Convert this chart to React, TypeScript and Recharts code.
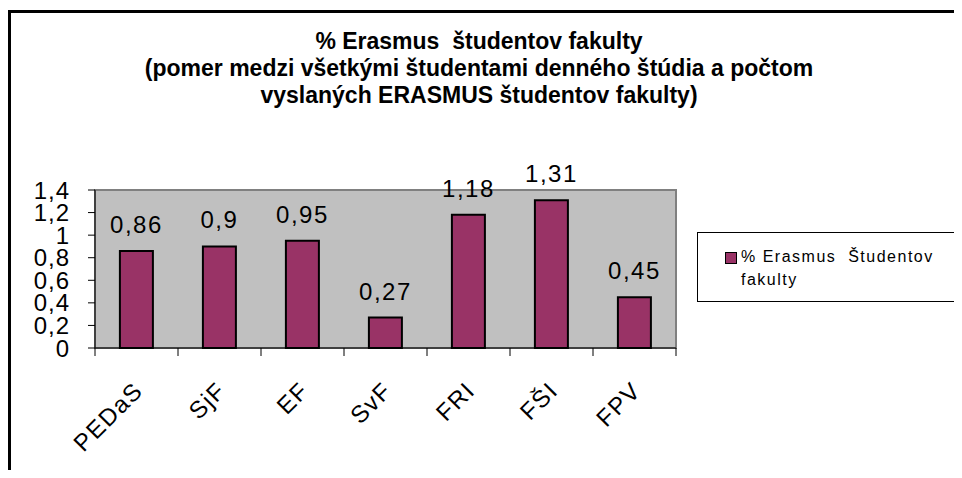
import React from 'react';
import { BarChart, Bar, XAxis, YAxis, LabelList, ReferenceArea } from 'recharts';

const categories = ['PEDaS', 'SjF', 'EF', 'SvF', 'FRI', 'FŠI', 'FPV'];
const erasmusShare = [0.86, 0.9, 0.95, 0.27, 1.18, 1.31, 0.45];
const yTicks = [0, 0.2, 0.4, 0.6, 0.8, 1, 1.2, 1.4];

const seriesName = '% Erasmus  Študentov fakulty';
const titleLines = [
  '% Erasmus  študentov fakulty',
  '(pomer medzi všetkými študentami denného štúdia a počtom',
  'vyslaných ERASMUS študentov fakulty)',
];

const data = categories.map((name, i) => ({ name, value: erasmusShare[i] }));

const FONT = 'Arial, "Liberation Sans", sans-serif';
const PLOT_LEFT = 95;
const PLOT_RIGHT = 676;
const BAND = (PLOT_RIGHT - PLOT_LEFT) / categories.length;

const comma = (v: number | string) => String(v).replace('.', ',');

const CategoryTick = (props: any) => {
  const { x, y, payload, index } = props;
  const half = BAND / 2;
  const tx = x + 8;
  const ty = y + 44;
  return (
    <g>
      <line x1={x - half} y1={y} x2={x - half} y2={y + 8} stroke="#000" />
      {index === categories.length - 1 && (
        <line x1={x + half} y1={y} x2={x + half} y2={y + 8} stroke="#000" />
      )}
      <text
        x={tx}
        y={ty}
        transform={`rotate(-45, ${tx}, ${ty})`}
        textAnchor="end"
        fontSize={24}
        fontFamily={FONT}
        letterSpacing={1.5}
        fill="#000"
      >
        {payload.value}
      </text>
    </g>
  );
};

export default function App() {
  return (
    <div style={{ position: 'relative', margin: -8, width: 962, height: 478, overflow: 'hidden', background: '#fff', fontFamily: FONT }}>
      {/* outer frame, only top and left edges are visible */}
      <div style={{ position: 'absolute', left: 8, top: 10, width: 1000, height: 600, borderLeft: '3px solid #000', borderTop: '3px solid #000' }} />

      <div style={{ position: 'absolute', left: 0, top: 28, width: 958, textAlign: 'center', fontWeight: 'bold', fontSize: 23, lineHeight: '27px', color: '#000' }}>
        {titleLines.map((t) => (
          <div key={t} style={{ whiteSpace: 'pre' }}>{t}</div>
        ))}
      </div>

      <div style={{ position: 'absolute', left: 0, top: 0 }}>
        <BarChart width={962} height={478} data={data} margin={{ top: 190, right: 962 - PLOT_RIGHT, left: 0, bottom: 0 }} barCategoryGap="30%">
          <ReferenceArea y1={0} y2={1.4} fill="#C0C0C0" fillOpacity={1} stroke="#808080" strokeWidth={2} />
          <XAxis
            dataKey="name"
            height={130}
            interval={0}
            tickSize={0}
            tickMargin={0}
            tickLine={false}
            axisLine={{ stroke: '#000' }}
            tick={<CategoryTick />}
          />
          <YAxis
            width={PLOT_LEFT}
            domain={[0, 1.4]}
            ticks={yTicks}
            interval={0}
            tickFormatter={comma}
            tickSize={7}
            tickMargin={18}
            axisLine={{ stroke: '#000' }}
            tickLine={{ stroke: '#000' }}
            tick={{ fontSize: 24, fill: '#000', fontFamily: FONT, letterSpacing: 1 }}
          />
          <Bar dataKey="value" fill="#993366" stroke="#000" strokeWidth={2} isAnimationActive={false}>
            <LabelList
              dataKey="value"
              position="top"
              offset={18}
              formatter={comma}
              style={{ fontSize: 24, fill: '#000', fontFamily: FONT, letterSpacing: 1.5 }}
            />
          </Bar>
        </BarChart>
      </div>

      <div style={{ position: 'absolute', left: 697, top: 232, width: 260, height: 70, border: '1px solid #000', boxSizing: 'border-box', background: '#fff' }} />
      <div style={{ position: 'absolute', left: 725, top: 252, width: 10, height: 10, border: '1px solid #000', background: '#993366' }} />
      <div style={{ position: 'absolute', left: 741, top: 245, width: 210, fontSize: 16, lineHeight: '23px', letterSpacing: 1.5, color: '#000', whiteSpace: 'pre-wrap' }}>
        {seriesName}
      </div>
    </div>
  );
}
